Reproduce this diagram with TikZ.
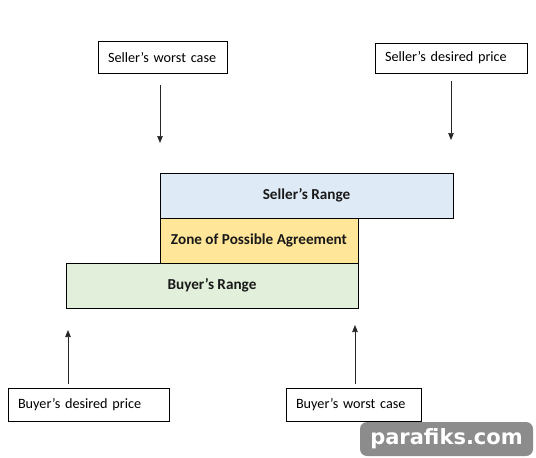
\documentclass[tikz,border=0pt]{standalone}
\usepackage{fontspec}
\setmainfont{Carlito}[Ligatures=Common]
\newfontfamily\wmfont{DejaVu Sans}
\usetikzlibrary{arrows.meta}
\definecolor{sellerblue}{HTML}{DEEBF7}
\definecolor{zopayellow}{HTML}{FFE699}
\definecolor{buyergreen}{HTML}{E2EFDA}
\definecolor{wmgray}{HTML}{8C8C8C}
\tikzset{
  labelbox/.style={draw=black, line width=0.8pt, fill=white, inner xsep=10pt, inner ysep=0pt,
    align=left, font=\fontsize{14.2}{16}\selectfont, anchor=center},
  rangebox/.style={draw=black, line width=0.8pt, inner sep=0pt, anchor=center,
    font=\fontsize{15.2}{17}\selectfont\bfseries, text=black!90},
  pointer/.style={draw=black!85, line width=0.7pt, -{Triangle[length=7pt,width=5.5pt]}}
}
\begin{document}
\begin{tikzpicture}[x=1pt,y=-1pt]
\useasboundingbox (0,0) rectangle (536,458);
% labels
\node[labelbox, text width=109pt, minimum height=32pt] (swc) at (162.5,57.5) {Seller's worst case};
\node[labelbox, text width=132pt, minimum height=30pt] (sdp) at (451,58) {Seller's desired price};
\node[labelbox, text width=141pt, minimum height=33pt] (bdp) at (88.5,404.5) {Buyer’s desired price};
\node[labelbox, text width=115pt, minimum height=33pt] (bwc) at (353.5,404.5) {Buyer’s worst case};
% ranges
\node[rangebox, fill=sellerblue, minimum width=293pt, minimum height=45pt] (sr) at (306.5,195.5) {Seller's Range};
\node[rangebox, fill=zopayellow, minimum width=198pt, minimum height=45pt] (zopa) at (259,240.5) {Zone of Possible Agreement};
\node[rangebox, fill=buyergreen, minimum width=292pt, minimum height=45pt] (br) at (212,285.5) {Buyer's Range};
% arrow ends
\coordinate (a1s) at (160,85);  \coordinate (a1e) at (160,143);
\coordinate (a2s) at (451,81);  \coordinate (a2e) at (451,140);
\coordinate (a3s) at (68,384);  \coordinate (a3e) at (68,330);
\coordinate (a4s) at (355,384); \coordinate (a4e) at (355,325);
\draw[pointer] (a1s) -- (a1e);
\draw[pointer] (a2s) -- (a2e);
\draw[pointer] (a3s) -- (a3e);
\draw[pointer] (a4s) -- (a4e);
% watermark
\node[fill=wmgray, rounded corners=7pt, minimum width=173pt, minimum height=34pt, inner sep=0pt,
  text=white, font=\wmfont\bfseries\fontsize{21}{23}\selectfont] (wm) at (446.5,439) {parafiks.com};
\end{tikzpicture}
\end{document}
